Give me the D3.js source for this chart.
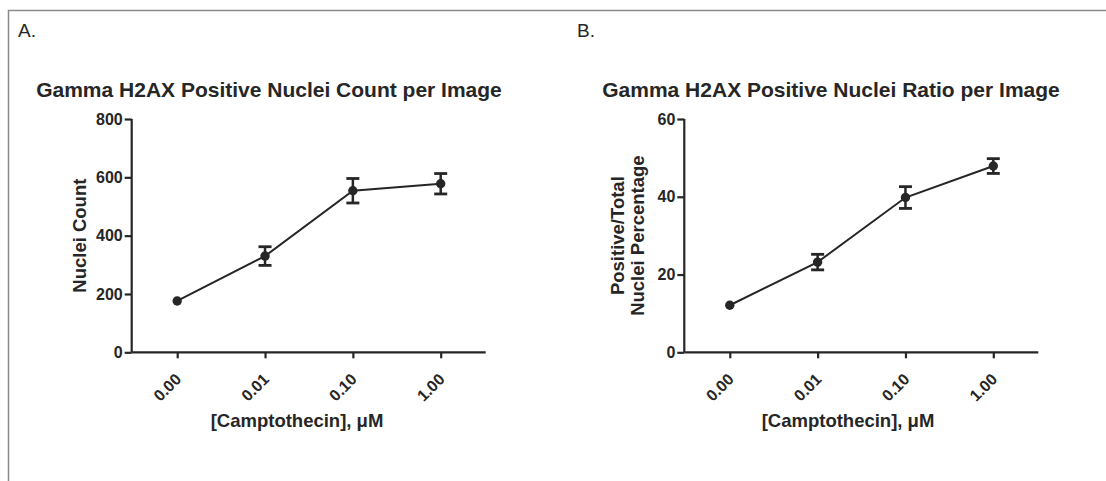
<!DOCTYPE html>
<html>
<head>
<meta charset="utf-8">
<script src="https://cdn.jsdelivr.net/npm/d3@7"></script>
<style>
  html, body { margin: 0; padding: 0; background: #fff; }
  svg { display: block; }
  text { font-family: "Liberation Sans", Arial, sans-serif; fill: #262626; }
</style>
</head>
<body>
<svg id="chart" width="1106" height="481"></svg>
<script>
// ---- data ----
const categories = ["0.00", "0.01", "0.10", "1.00"];
const countMean = [176, 330, 554, 578];
const countErr = [0, 32, 42, 35];
const ratioMean = [12.1, 23.2, 39.8, 47.9];
const ratioErr = [0, 2.0, 2.8, 1.9];
const countTicks = [0, 200, 400, 600, 800];
const ratioTicks = [0, 20, 40, 60];
const panelLetters = ["A.", "B."];
const titles = ["Gamma H2AX Positive Nuclei Count per Image", "Gamma H2AX Positive Nuclei Ratio per Image"];
const xTitle = "[Camptothecin], \u03BCM";
const yTitlesA = ["Nuclei Count"];
const yTitlesB = ["Positive/Total", "Nuclei Percentage"];

const svg = d3.select("#chart");
const ink = "#262626";

// frame (left and top edges visible)
svg.append("path").attr("d", "M8.5,481V10.5H1106")
  .attr("fill", "none").attr("stroke", "#8a8a8a").attr("stroke-width", 1.5);

function panel(cfg) {
  const g = svg.append("g");
  const ax = cfg.axisX, top = 119, bottom = 352.3;
  const x = d3.scalePoint().domain(categories).range([ax + 45.5, ax + 309]);
  const y = d3.scaleLinear().domain([0, cfg.ymax]).range([bottom, top]);

  g.append("text").attr("x", cfg.letterX).attr("y", 37).attr("font-size", 19).text(cfg.letter);
  g.append("text").attr("x", cfg.titleX).attr("y", 97).attr("font-size", 21)
    .attr("font-weight", "bold").attr("text-anchor", "middle").text(cfg.title);

  // y axis
  const yAxis = g.append("g").attr("transform", `translate(${ax},0)`)
    .call(d3.axisLeft(y).tickValues(cfg.ticks).tickSize(7).tickPadding(2).tickFormat(d3.format("d")));
  yAxis.select(".domain").attr("d", `M0,${top}V${bottom}`);
  // x axis
  const xAxis = g.append("g").attr("transform", `translate(0,${bottom})`)
    .call(d3.axisBottom(x).tickSize(6).tickFormat(""));
  xAxis.select(".domain").attr("d", `M${ax},0H${ax + 354}`);
  [yAxis, xAxis].forEach(a => {
    a.selectAll(".domain").attr("stroke", ink).attr("stroke-width", 2.2);
    a.selectAll(".tick line").attr("stroke", ink).attr("stroke-width", 2.2);
  });
  yAxis.selectAll(".tick text").attr("font-size", 16).attr("font-weight", "bold")
    .attr("fill", ink).attr("font-family", "Liberation Sans, Arial, sans-serif");

  // rotated x labels
  g.selectAll(".xl").data(categories).enter().append("text")
    .attr("class", "xl")
    .attr("transform", d => `translate(${x(d) + 5},${bottom + 28}) rotate(-45)`)
    .attr("text-anchor", "end").attr("font-size", 16).attr("font-weight", "bold")
    .text(d => d);

  g.append("text").attr("x", cfg.xTitleX).attr("y", 427).attr("text-anchor", "middle")
    .attr("font-size", 18.5).attr("font-weight", "bold").text(xTitle);

  // y title
  const yc = (top + bottom) / 2;
  cfg.yTitles.forEach((t, i) => {
    g.append("text")
      .attr("transform", `translate(${cfg.yTitleX[i]},${yc}) rotate(-90)`)
      .attr("text-anchor", "middle").attr("font-size", 18.5).attr("font-weight", "bold").text(t);
  });

  const pts = categories.map((c, i) => ({ c, m: cfg.mean[i], e: cfg.err[i] }));
  const line = d3.line().x(d => x(d.c)).y(d => y(d.m));
  g.append("path").datum(pts).attr("d", line).attr("fill", "none")
    .attr("stroke", ink).attr("stroke-width", 2);

  const eb = g.selectAll(".eb").data(pts.filter(d => d.e > 0)).enter().append("g").attr("class", "eb");
  eb.append("line").attr("x1", d => x(d.c)).attr("x2", d => x(d.c))
    .attr("y1", d => y(d.m - d.e)).attr("y2", d => y(d.m + d.e))
    .attr("stroke", ink).attr("stroke-width", 2.5);
  [-1, 1].forEach(s => {
    eb.append("line").attr("x1", d => x(d.c) - 6.5).attr("x2", d => x(d.c) + 6.5)
      .attr("y1", d => y(d.m + s * d.e)).attr("y2", d => y(d.m + s * d.e))
      .attr("stroke", ink).attr("stroke-width", 2.8);
  });
  g.selectAll(".pt").data(pts).enter().append("circle")
    .attr("cx", d => x(d.c)).attr("cy", d => y(d.m)).attr("r", 4.7).attr("fill", ink);
}

panel({ axisX: 131.7, ymax: 800, ticks: countTicks, mean: countMean, err: countErr,
  letter: panelLetters[0], letterX: 18, title: titles[0], titleX: 269, xTitleX: 297,
  yTitles: yTitlesA, yTitleX: [86] });
panel({ axisX: 684.3, ymax: 60, ticks: ratioTicks, mean: ratioMean, err: ratioErr,
  letter: panelLetters[1], letterX: 577, title: titles[1], titleX: 831, xTitleX: 848,
  yTitles: yTitlesB, yTitleX: [624, 644] });
</script>
</body>
</html>
